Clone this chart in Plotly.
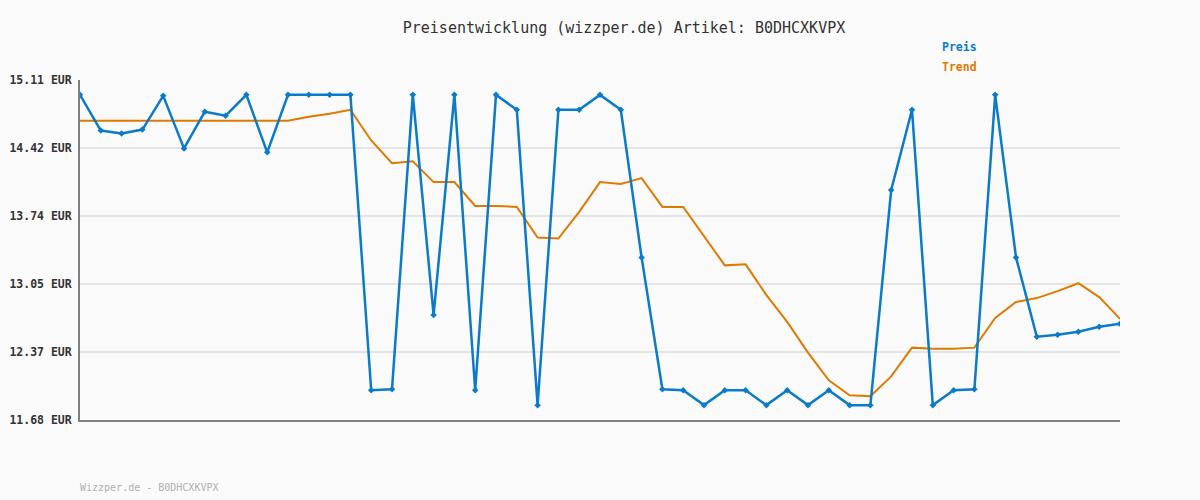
import plotly.graph_objects as go

title_text = "Preisentwicklung (wizzper.de) Artikel: B0DHCXKVPX"
footer_text = "Wizzper.de - B0DHCXKVPX"
series_names = ["Preis", "Trend"]

price = [14.96, 14.60, 14.57, 14.61, 14.95, 14.42, 14.79, 14.75, 14.96, 14.38,
         14.96, 14.96, 14.96, 14.96, 11.98, 11.99, 14.96, 12.74, 14.96, 11.98,
         14.96, 14.81, 11.83, 14.81, 14.81, 14.96, 14.81, 13.32, 11.99, 11.98,
         11.83, 11.98, 11.98, 11.83, 11.98, 11.83, 11.98, 11.83, 11.83, 14.00,
         14.81, 11.83, 11.98, 11.99, 14.96, 13.32, 12.52, 12.54, 12.57, 12.62,
         12.65]

trend = [14.70, 14.70, 14.70, 14.70, 14.70, 14.70, 14.70, 14.70, 14.70, 14.70,
         14.70, 14.74, 14.77, 14.81, 14.50, 14.27, 14.29, 14.08, 14.08, 13.84,
         13.84, 13.83, 13.52, 13.51, 13.78, 14.08, 14.06, 14.12, 13.83, 13.83,
         13.53, 13.24, 13.25, 12.94, 12.67, 12.36, 12.08, 11.93, 11.92, 12.12,
         12.41, 12.40, 12.40, 12.41, 12.71, 12.87, 12.91, 12.98, 13.06, 12.92,
         12.70]

tick_vals = [15.11, 14.42, 13.74, 13.05, 12.37, 11.68]
tick_text = ["15.11 EUR", "14.42 EUR", "13.74 EUR", "13.05 EUR", "12.37 EUR", "11.68 EUR"]

blue = "#0b7ac9"
orange = "#de7a00"
x = list(range(len(price)))

fig = go.Figure()
fig.add_trace(go.Scatter(x=x, y=trend, mode="lines", name=series_names[1],
                         line=dict(color=orange, width=2)))
fig.add_trace(go.Scatter(x=x, y=price, mode="lines+markers", name=series_names[0],
                         line=dict(color=blue, width=2.5),
                         marker=dict(symbol="diamond", size=5, color=blue)))

fig.update_layout(
    width=1200, height=500,
    paper_bgcolor="#fafafa", plot_bgcolor="#fafafa",
    margin=dict(l=80, r=80, t=80, b=80),
    showlegend=False,
    font=dict(family="DejaVu Sans Mono", color="#333333"),
    title=dict(text=title_text, x=0.52, xanchor="center", y=0.944, yanchor="middle",
               font=dict(family="DejaVu Sans Mono", size=15, color="#333333")),
    xaxis=dict(range=[0, len(price) - 1], showgrid=False, showticklabels=False,
               zeroline=False, showline=True, linecolor="#808080", linewidth=2,
               ticks="", automargin=False),
    yaxis=dict(range=[11.68, 15.11], tickvals=tick_vals, ticktext=tick_text,
               showgrid=True, gridcolor="#e4e4e4", gridwidth=2, zeroline=False,
               showline=True, linecolor="#808080", linewidth=2, ticks="",
               ticklabelstandoff=4, automargin=False,
               tickfont=dict(family="DejaVu Sans Mono", size=11.5, color="#333333",
                             weight="bold")),
)

fig.add_annotation(text=series_names[0], xref="paper", yref="paper", x=(940 - 80) / 1040,
                   y=(420 - 47) / 340, xanchor="left", yanchor="middle", showarrow=False,
                   font=dict(family="DejaVu Sans Mono", size=11.5, color=blue, weight="bold"))
fig.add_annotation(text=series_names[1], xref="paper", yref="paper", x=(940 - 80) / 1040,
                   y=(420 - 67) / 340, xanchor="left", yanchor="middle", showarrow=False,
                   font=dict(family="DejaVu Sans Mono", size=11.5, color=orange, weight="bold"))
fig.add_annotation(text=footer_text, xref="paper", yref="paper", x=-0.002,
                   y=(420 - 487) / 340, xanchor="left", yanchor="middle", showarrow=False,
                   font=dict(family="DejaVu Sans Mono", size=10, color="#b0b0b0"))

fig.write_html("out.html", config={"displayModeBar": False},
               post_script="document.body.style.margin='0';")
